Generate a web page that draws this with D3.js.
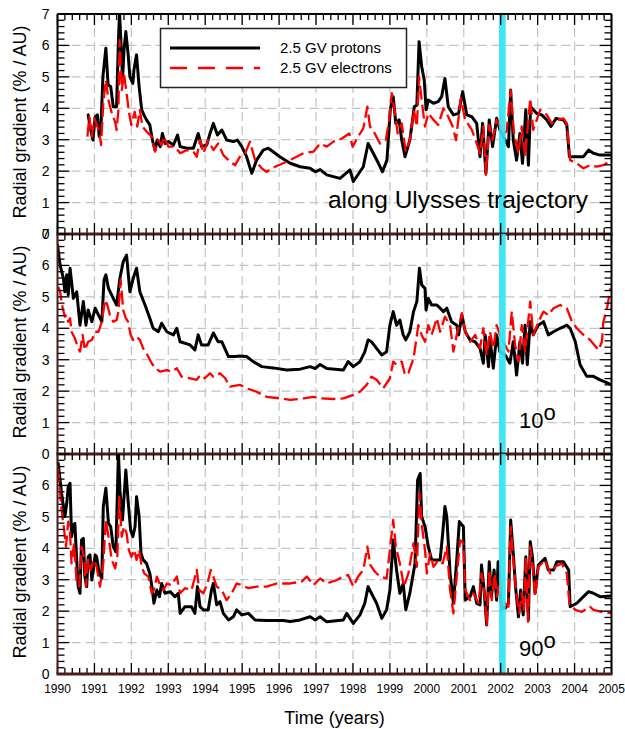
<!DOCTYPE html>
<html>
<head>
<meta charset="utf-8">
<script src="https://cdn.jsdelivr.net/npm/d3@7"></script>
<style>
  html, body { margin: 0; padding: 0; background: #fff; }
  svg { display: block; font-family: "Liberation Sans", Arial, Helvetica, sans-serif; }
</style>
</head>
<body>
<svg id="chart" width="625" height="729"></svg>
<script>
// ---- data -------------------------------------------------------------
const yearTicks = d3.range(1990, 2006);
const valueTicks = [0, 1, 2, 3, 4, 5, 6, 7];
const seriesNames = ["2.5 GV protons", "2.5 GV electrons"];
const panelLabels = ["along Ulysses trajectory", "10", "90"];
const markedInterval = [2001.955, 2002.135];

// radial gradient along the Ulysses trajectory  [year, %/AU]
const trajProtons = [[1990.83,3.79],[1990.90,3.31],[1990.96,2.99],[1991.02,3.73],[1991.08,3.79],[1991.13,3.10],[1991.18,3.52],[1991.23,5.01],[1991.31,5.91],[1991.37,4.74],[1991.44,4.69],[1991.51,4.05],[1991.60,4.05],[1991.65,6.17],[1991.68,7.05],[1991.74,5.54],[1991.76,4.90],[1991.80,5.85],[1991.85,6.44],[1991.91,5.75],[1991.96,5.01],[1992.04,4.79],[1992.07,5.22],[1992.14,5.70],[1992.21,4.69],[1992.28,3.95],[1992.34,3.79],[1992.41,3.63],[1992.50,3.47],[1992.57,2.99],[1992.64,2.67],[1992.70,2.99],[1992.78,2.78],[1992.84,3.20],[1992.91,2.88],[1993.00,2.94],[1993.14,2.83],[1993.25,3.15],[1993.32,2.78],[1993.50,2.73],[1993.68,2.73],[1993.81,3.20],[1993.90,2.78],[1994.04,2.83],[1994.13,3.20],[1994.22,3.52],[1994.33,3.15],[1994.45,3.31],[1994.58,2.99],[1994.76,2.94],[1994.87,2.99],[1994.99,2.78],[1995.12,2.46],[1995.26,1.93],[1995.39,2.35],[1995.57,2.67],[1995.71,2.73],[1996.02,2.46],[1996.30,2.25],[1996.57,2.14],[1996.84,2.09],[1996.98,1.98],[1997.11,2.05],[1997.29,1.88],[1997.65,1.77],[1997.92,2.04],[1998.01,1.67],[1998.28,2.14],[1998.41,2.88],[1998.55,2.57],[1998.69,2.25],[1998.80,1.98],[1998.92,2.35],[1999.01,3.95],[1999.09,4.37],[1999.16,3.52],[1999.25,3.63],[1999.32,2.99],[1999.41,2.46],[1999.54,2.99],[1999.66,4.05],[1999.73,4.10],[1999.79,6.12],[1999.86,5.33],[1999.93,4.90],[1999.98,3.95],[2000.04,4.26],[2000.18,4.16],[2000.31,4.21],[2000.40,4.37],[2000.49,4.95],[2000.58,4.05],[2000.72,3.79],[2000.86,3.84],[2000.97,4.53],[2001.08,3.79],[2001.22,3.73],[2001.35,3.52],[2001.44,2.46],[2001.51,3.52],[2001.60,1.93],[2001.69,3.63],[2001.78,2.78],[2001.89,3.68],[2001.98,3.31],[2002.12,2.99],[2002.21,2.78],[2002.27,4.58],[2002.34,2.99],[2002.43,2.35],[2002.52,3.20],[2002.59,2.25],[2002.68,3.95],[2002.75,2.19],[2002.81,4.05],[2002.97,3.84],[2003.11,3.79],[2003.25,3.63],[2003.36,3.42],[2003.50,3.68],[2003.70,3.63],[2003.79,3.47],[2003.86,2.46],[2004.06,2.46],[2004.24,2.46],[2004.38,2.67],[2004.51,2.57],[2004.69,2.51],[2005.00,2.51]];
const trajElectrons = [[1990.81,3.10],[1990.86,3.73],[1990.93,3.10],[1991.00,3.68],[1991.08,3.42],[1991.13,3.26],[1991.18,2.83],[1991.24,4.16],[1991.31,4.90],[1991.38,4.26],[1991.47,3.84],[1991.56,3.57],[1991.60,3.31],[1991.65,3.95],[1991.68,6.17],[1991.74,4.58],[1991.80,5.11],[1991.87,4.48],[1991.94,3.84],[1992.00,3.47],[1992.09,3.89],[1992.16,3.42],[1992.23,3.95],[1992.30,3.42],[1992.41,3.26],[1992.55,3.10],[1992.64,2.62],[1992.73,2.99],[1992.82,2.83],[1992.88,3.10],[1993.00,2.78],[1993.18,2.78],[1993.32,2.57],[1993.50,2.67],[1993.68,2.62],[1993.77,2.46],[1993.86,2.99],[1993.95,2.57],[1994.08,2.99],[1994.22,2.67],[1994.35,2.88],[1994.49,2.51],[1994.67,2.30],[1994.81,2.19],[1994.94,2.46],[1995.08,2.57],[1995.21,2.94],[1995.35,2.35],[1995.53,2.09],[1995.66,1.98],[1995.89,2.14],[1996.11,2.25],[1996.39,2.41],[1996.66,2.57],[1996.93,2.62],[1997.11,2.88],[1997.29,2.78],[1997.47,2.94],[1997.70,3.04],[1997.90,3.20],[1997.99,2.78],[1998.14,3.10],[1998.28,3.36],[1998.39,4.05],[1998.46,3.42],[1998.59,3.20],[1998.73,2.88],[1998.89,2.99],[1998.98,3.63],[1999.05,4.48],[1999.14,3.84],[1999.21,3.20],[1999.32,3.52],[1999.43,2.62],[1999.54,2.99],[1999.65,3.95],[1999.73,3.42],[1999.79,5.01],[1999.86,4.26],[1999.95,3.42],[2000.04,3.84],[2000.18,3.63],[2000.31,3.47],[2000.45,4.00],[2000.58,3.73],[2000.70,3.42],[2000.79,2.99],[2000.92,4.32],[2001.04,3.63],[2001.22,3.31],[2001.35,2.88],[2001.44,2.57],[2001.53,3.42],[2001.60,1.88],[2001.69,3.47],[2001.78,2.99],[2001.89,3.63],[2001.98,3.42],[2002.07,3.20],[2002.16,3.26],[2002.27,4.58],[2002.36,3.20],[2002.48,2.57],[2002.57,3.42],[2002.66,2.46],[2002.80,4.32],[2002.88,3.31],[2003.07,3.95],[2003.25,3.79],[2003.38,3.52],[2003.52,3.63],[2003.70,3.68],[2003.79,3.52],[2003.88,2.35],[2004.06,2.25],[2004.24,2.09],[2004.42,2.19],[2004.60,2.14],[2004.78,2.19],[2005.00,2.35]];

// radial gradient at 10 degrees latitude
const lat10Protons = [[1990.00,6.65],[1990.07,6.01],[1990.16,5.59],[1990.20,5.16],[1990.25,5.70],[1990.29,5.06],[1990.34,5.91],[1990.43,4.95],[1990.52,5.16],[1990.61,4.10],[1990.70,4.85],[1990.77,4.10],[1990.83,4.58],[1990.93,4.21],[1991.02,4.64],[1991.11,4.42],[1991.20,4.21],[1991.26,5.54],[1991.31,5.70],[1991.38,5.27],[1991.51,4.95],[1991.60,4.74],[1991.69,5.59],[1991.78,6.12],[1991.87,6.33],[1991.96,5.16],[1992.05,5.59],[1992.14,5.91],[1992.23,5.16],[1992.37,4.74],[1992.50,4.32],[1992.59,4.00],[1992.73,3.89],[1992.82,4.16],[1992.96,3.89],[1993.14,3.79],[1993.23,4.00],[1993.32,3.57],[1993.59,3.47],[1993.72,3.31],[1993.81,3.79],[1993.90,3.47],[1994.08,3.47],[1994.22,3.85],[1994.35,3.57],[1994.45,3.57],[1994.63,3.10],[1994.81,3.10],[1994.94,3.12],[1995.12,3.10],[1995.30,2.94],[1995.53,2.78],[1995.84,2.74],[1996.20,2.67],[1996.57,2.70],[1996.84,2.78],[1996.98,2.72],[1997.11,2.85],[1997.29,2.72],[1997.74,2.67],[1997.87,2.94],[1998.01,2.78],[1998.19,2.94],[1998.32,3.25],[1998.41,3.63],[1998.50,3.57],[1998.64,3.36],[1998.78,3.15],[1998.91,3.25],[1999.00,4.10],[1999.09,4.53],[1999.18,4.10],[1999.27,4.26],[1999.36,3.79],[1999.43,3.63],[1999.54,3.89],[1999.64,4.53],[1999.73,4.85],[1999.80,5.91],[1999.86,5.38],[1999.95,5.27],[1999.98,4.58],[2000.04,4.95],[2000.13,4.74],[2000.27,4.74],[2000.36,4.64],[2000.45,4.53],[2000.54,4.64],[2000.67,4.21],[2000.81,4.10],[2000.86,3.79],[2000.95,4.42],[2001.04,3.89],[2001.17,3.63],[2001.31,3.57],[2001.44,3.36],[2001.53,2.89],[2001.58,3.79],[2001.67,2.78],[2001.71,3.68],[2001.80,2.73],[2001.89,3.79],[2001.98,3.25],[2002.12,3.15],[2002.25,2.89],[2002.34,3.57],[2002.43,2.51],[2002.52,3.57],[2002.59,2.89],[2002.66,4.10],[2002.72,2.84],[2002.80,4.21],[2002.88,3.79],[2003.02,4.10],[2003.16,4.21],[2003.29,3.79],[2003.43,3.89],[2003.61,4.00],[2003.79,4.10],[2003.88,4.00],[2004.02,3.57],[2004.15,2.84],[2004.33,2.47],[2004.51,2.47],[2004.69,2.36],[2004.88,2.26],[2005.00,2.20]];
const lat10Electrons = [[1990.02,5.32],[1990.07,5.17],[1990.14,4.64],[1990.20,4.37],[1990.25,4.42],[1990.29,4.21],[1990.34,4.32],[1990.38,3.89],[1990.47,3.68],[1990.56,3.36],[1990.61,3.26],[1990.68,3.79],[1990.74,3.31],[1990.83,3.57],[1990.93,3.63],[1991.02,3.89],[1991.11,3.89],[1991.20,4.21],[1991.29,4.90],[1991.35,4.74],[1991.42,4.42],[1991.51,4.21],[1991.60,4.26],[1991.65,4.53],[1991.71,5.54],[1991.78,4.58],[1991.85,4.32],[1991.91,4.21],[1991.98,3.79],[1992.05,3.63],[1992.14,3.73],[1992.23,3.63],[1992.32,3.36],[1992.41,3.20],[1992.55,2.89],[1992.64,2.73],[1992.78,2.62],[1992.96,2.67],[1993.09,2.62],[1993.23,2.73],[1993.36,2.46],[1993.59,2.41],[1993.77,2.36],[1993.86,2.51],[1993.99,2.41],[1994.13,2.57],[1994.22,2.46],[1994.40,2.57],[1994.54,2.41],[1994.67,2.14],[1994.94,2.20],[1995.12,2.09],[1995.39,1.98],[1995.66,1.82],[1996.02,1.77],[1996.30,1.72],[1996.66,1.77],[1996.93,1.82],[1997.11,1.77],[1997.47,1.75],[1997.74,1.77],[1998.01,1.88],[1998.19,1.98],[1998.37,2.20],[1998.50,2.46],[1998.64,2.36],[1998.82,2.09],[1999.00,2.41],[1999.09,2.94],[1999.18,2.84],[1999.32,2.94],[1999.41,2.51],[1999.50,2.57],[1999.64,3.04],[1999.77,4.10],[1999.86,3.79],[1999.95,3.57],[2000.04,4.10],[2000.13,3.79],[2000.27,4.32],[2000.36,3.89],[2000.49,4.37],[2000.63,4.10],[2000.72,3.26],[2000.81,3.79],[2000.95,4.48],[2001.04,3.89],[2001.17,3.57],[2001.31,3.79],[2001.44,3.36],[2001.53,4.00],[2001.62,3.15],[2001.71,3.89],[2001.80,3.36],[2001.89,4.10],[2001.98,3.79],[2002.07,3.57],[2002.21,3.26],[2002.30,4.53],[2002.39,3.47],[2002.48,2.94],[2002.57,4.10],[2002.66,3.26],[2002.80,4.85],[2002.88,3.79],[2003.02,4.21],[2003.16,4.53],[2003.29,4.42],[2003.43,4.64],[2003.61,4.74],[2003.79,4.64],[2003.93,4.21],[2004.06,4.00],[2004.24,3.79],[2004.42,3.63],[2004.65,3.31],[2004.74,3.57],[2004.78,4.21],[2004.88,4.64],[2004.97,5.27]];

// radial gradient at 90 degrees latitude
const lat90Protons = [[1990.02,6.70],[1990.07,6.17],[1990.11,5.75],[1990.16,5.33],[1990.20,5.01],[1990.25,5.43],[1990.29,5.96],[1990.34,6.07],[1990.38,4.37],[1990.43,4.74],[1990.47,4.79],[1990.52,3.63],[1990.56,2.78],[1990.61,2.57],[1990.65,4.26],[1990.70,4.32],[1990.74,3.10],[1990.79,2.78],[1990.83,3.73],[1990.88,3.79],[1990.93,2.99],[1990.97,3.31],[1991.02,3.79],[1991.06,3.73],[1991.13,3.20],[1991.20,3.04],[1991.24,5.33],[1991.31,5.91],[1991.38,4.79],[1991.44,4.69],[1991.51,4.05],[1991.58,3.89],[1991.65,7.05],[1991.69,5.85],[1991.76,4.90],[1991.85,6.49],[1991.91,5.54],[1991.98,4.58],[1992.04,4.37],[1992.10,4.69],[1992.14,5.64],[1992.21,5.01],[1992.26,3.84],[1992.32,3.63],[1992.41,3.52],[1992.50,3.20],[1992.57,2.67],[1992.61,2.25],[1992.69,2.67],[1992.76,2.46],[1992.82,2.88],[1992.91,2.57],[1993.05,2.62],[1993.18,2.46],[1993.27,2.57],[1993.32,1.93],[1993.45,2.14],[1993.63,2.14],[1993.72,1.93],[1993.79,2.78],[1993.86,2.14],[1993.95,2.04],[1994.08,2.04],[1994.17,2.67],[1994.22,2.88],[1994.31,2.20],[1994.40,2.30],[1994.49,1.93],[1994.63,1.72],[1994.76,1.82],[1994.85,2.04],[1994.99,1.88],[1995.17,1.93],[1995.35,1.72],[1995.66,1.70],[1996.11,1.70],[1996.30,1.67],[1996.57,1.72],[1996.84,1.82],[1996.98,1.72],[1997.11,1.82],[1997.29,1.66],[1997.74,1.72],[1997.83,1.93],[1998.01,1.61],[1998.19,1.88],[1998.32,2.25],[1998.41,2.78],[1998.50,2.57],[1998.64,2.25],[1998.78,1.77],[1998.91,2.04],[1999.00,2.67],[1999.09,4.26],[1999.18,3.31],[1999.27,2.57],[1999.36,2.88],[1999.43,2.04],[1999.54,2.57],[1999.68,3.52],[1999.75,6.17],[1999.82,6.38],[1999.86,5.01],[1999.95,4.69],[2000.04,4.05],[2000.13,3.63],[2000.22,3.63],[2000.36,3.63],[2000.43,4.48],[2000.49,5.33],[2000.54,5.01],[2000.63,3.20],[2000.72,2.25],[2000.81,3.63],[2000.88,4.85],[2000.99,4.69],[2001.04,2.35],[2001.17,2.46],[2001.26,2.78],[2001.35,2.25],[2001.44,2.20],[2001.48,3.47],[2001.55,2.67],[2001.62,1.56],[2001.69,3.57],[2001.75,2.46],[2001.82,3.31],[2001.89,2.35],[2001.93,3.57],[2002.02,2.14],[2002.12,2.09],[2002.21,2.25],[2002.27,4.90],[2002.34,3.84],[2002.41,2.67],[2002.48,1.82],[2002.54,2.67],[2002.61,1.88],[2002.68,3.73],[2002.75,1.72],[2002.80,4.21],[2002.86,3.73],[2002.93,2.57],[2003.02,3.47],[2003.20,3.68],[2003.29,3.31],[2003.43,3.31],[2003.52,3.57],[2003.70,3.57],[2003.84,3.31],[2003.88,2.14],[2004.06,2.25],[2004.24,2.46],[2004.38,2.62],[2004.51,2.57],[2004.69,2.46],[2005.00,2.48]];
const lat90Electrons = [[1990.02,6.54],[1990.07,5.75],[1990.11,5.22],[1990.18,4.58],[1990.23,4.05],[1990.29,4.85],[1990.34,4.48],[1990.38,3.52],[1990.45,4.16],[1990.52,2.88],[1990.59,2.78],[1990.65,4.05],[1990.72,3.73],[1990.77,2.78],[1990.83,3.63],[1990.90,3.31],[1990.97,3.63],[1991.06,3.41],[1991.15,2.78],[1991.24,3.52],[1991.31,4.90],[1991.38,4.37],[1991.47,3.63],[1991.56,3.36],[1991.62,3.73],[1991.67,5.64],[1991.74,4.37],[1991.80,4.69],[1991.87,4.48],[1991.93,3.95],[1992.00,3.73],[1992.08,3.95],[1992.14,3.63],[1992.21,3.95],[1992.28,3.41],[1992.35,3.20],[1992.46,3.10],[1992.55,2.57],[1992.61,2.67],[1992.69,3.10],[1992.76,2.88],[1992.87,2.67],[1992.96,2.88],[1993.09,2.83],[1993.23,3.10],[1993.32,2.57],[1993.45,2.73],[1993.63,2.67],[1993.77,3.31],[1993.84,2.67],[1993.95,2.57],[1994.06,2.88],[1994.15,3.31],[1994.22,3.10],[1994.31,2.78],[1994.45,2.67],[1994.58,2.35],[1994.72,2.57],[1994.85,2.88],[1994.99,2.83],[1995.17,2.73],[1995.39,2.78],[1995.66,2.78],[1995.93,2.88],[1996.30,2.88],[1996.61,2.94],[1996.75,3.10],[1996.93,2.83],[1997.11,3.04],[1997.29,2.88],[1997.56,2.99],[1997.74,3.10],[1997.87,3.15],[1998.01,2.78],[1998.14,3.10],[1998.28,3.31],[1998.39,4.05],[1998.47,3.47],[1998.59,3.26],[1998.73,3.10],[1998.91,3.04],[1999.00,3.95],[1999.09,4.90],[1999.16,4.05],[1999.27,3.52],[1999.38,2.78],[1999.50,3.20],[1999.64,4.16],[1999.73,3.41],[1999.80,5.75],[1999.86,4.79],[1999.95,3.95],[2000.00,3.20],[2000.09,3.84],[2000.18,3.41],[2000.31,3.63],[2000.43,3.52],[2000.54,4.05],[2000.63,2.67],[2000.72,1.93],[2000.81,3.10],[2000.90,4.26],[2000.99,4.16],[2001.04,2.67],[2001.17,2.35],[2001.26,2.57],[2001.40,2.25],[2001.48,3.20],[2001.57,2.46],[2001.62,1.56],[2001.69,3.31],[2001.76,2.35],[2001.84,3.20],[2001.90,2.46],[2001.98,2.99],[2002.02,2.04],[2002.12,2.25],[2002.21,2.14],[2002.27,4.69],[2002.36,3.41],[2002.43,2.46],[2002.50,1.93],[2002.57,2.57],[2002.63,2.04],[2002.68,3.73],[2002.74,1.66],[2002.80,4.05],[2002.87,3.41],[2002.93,2.46],[2003.02,3.41],[2003.20,3.63],[2003.34,3.20],[2003.47,3.41],[2003.65,3.52],[2003.79,3.20],[2003.86,2.25],[2004.02,2.04],[2004.20,1.98],[2004.42,2.14],[2004.51,2.04],[2004.74,1.98],[2005.00,1.93]];

const panelSeries = [
  [trajProtons, trajElectrons],
  [lat10Protons, lat10Electrons],
  [lat90Protons, lat90Electrons]
];

// ---- layout -----------------------------------------------------------
const svg = d3.select("#chart");
const left = 57.5, right = 611.5;
const panelTop = [14, 234, 454];
const panelH = 220;
const axisDark = "#4a1c1c";
const gridColor = "#c4c4c4";
const cyan = "#2fe4f2";

const x = d3.scaleLinear().domain([1990, 2005]).range([left, right]);
const minorYears = d3.range(1990, 2005.001, 0.2);
const minorValues = d3.range(0, 7.001, 0.2);

const defs = svg.append("defs");

panelSeries.forEach((series, i) => {
  const top = panelTop[i];
  const y = d3.scaleLinear().domain([0, 7]).range([top + panelH, top]);
  const g = svg.append("g").attr("class", "panel");

  defs.append("clipPath").attr("id", "clip" + i)
    .append("rect").attr("x", left).attr("y", top).attr("width", right - left).attr("height", panelH);

  // dashed grid
  g.append("g").selectAll("line.vg").data(yearTicks.slice(1, -1)).join("line")
    .attr("x1", d => x(d)).attr("x2", d => x(d))
    .attr("y1", top).attr("y2", top + panelH)
    .attr("stroke", gridColor).attr("stroke-width", 1.2).attr("stroke-dasharray", "9,5");
  g.append("g").selectAll("line.hg").data(valueTicks.slice(1, -1)).join("line")
    .attr("x1", left).attr("x2", right)
    .attr("y1", d => y(d)).attr("y2", d => y(d))
    .attr("stroke", gridColor).attr("stroke-width", 1.2).attr("stroke-dasharray", "9,5");

  // data curves
  const line = d3.line().x(d => x(d[0])).y(d => y(d[1])).curve(d3.curveLinear);
  const cg = g.append("g").attr("clip-path", `url(#clip${i})`);
  cg.append("path").datum(series[0]).attr("d", line)
    .attr("fill", "none").attr("stroke", "#000").attr("stroke-width", 3)
    .attr("stroke-linejoin", "round").attr("stroke-linecap", "round");
  cg.append("path").datum(series[1]).attr("d", line)
    .attr("fill", "none").attr("stroke", "#f00").attr("stroke-width", 2.3)
    .attr("stroke-dasharray", "14,5").attr("stroke-linejoin", "round");

  // highlighted interval
  g.append("rect")
    .attr("x", x(markedInterval[0])).attr("width", x(markedInterval[1]) - x(markedInterval[0]))
    .attr("y", top).attr("height", panelH)
    .attr("fill", cyan).attr("opacity", 0.92);

  // inward ticks on all four sides
  const tg = g.append("g").attr("stroke", "#000").attr("stroke-width", 1.3);
  minorYears.forEach(v => {
    const major = Math.abs(v - Math.round(v)) < 1e-6;
    const len = major ? 11 : 6;
    tg.append("line").attr("x1", x(v)).attr("x2", x(v)).attr("y1", top).attr("y2", top + len);
    tg.append("line").attr("x1", x(v)).attr("x2", x(v)).attr("y1", top + panelH).attr("y2", top + panelH - len);
  });
  minorValues.forEach(v => {
    const major = Math.abs(v - Math.round(v)) < 1e-6;
    const len = major ? 12 : 7;
    tg.append("line").attr("x1", left).attr("x2", left + len).attr("y1", y(v)).attr("y2", y(v));
    tg.append("line").attr("x1", right).attr("x2", right - len).attr("y1", y(v)).attr("y2", y(v));
  });

  // frame
  g.append("line").attr("x1", right).attr("x2", right).attr("y1", top).attr("y2", top + panelH)
    .attr("stroke", "#000").attr("stroke-width", 2);
  g.append("line").attr("x1", left).attr("x2", left).attr("y1", top).attr("y2", top + panelH)
    .attr("stroke", i === 0 ? "#000" : axisDark).attr("stroke-width", 2);
  if (i === 0) {
    g.append("line").attr("x1", left).attr("x2", right).attr("y1", top).attr("y2", top)
      .attr("stroke", "#000").attr("stroke-width", 2);
  }
  g.append("line").attr("x1", left - 1).attr("x2", right + 1)
    .attr("y1", top + panelH).attr("y2", top + panelH)
    .attr("stroke", axisDark).attr("stroke-width", 3);

  // y tick labels
  const labelVals = i === 2 ? valueTicks.slice(0, -1) : valueTicks;
  g.append("g").selectAll("text").data(labelVals).join("text")
    .attr("x", left - 8).attr("y", d => y(d)).attr("dy", "0.36em")
    .attr("text-anchor", "end").attr("font-size", 14).attr("fill", "#000")
    .text(d => d);

  // y axis title
  g.append("text")
    .attr("transform", `translate(26,${top + panelH / 2 - 2}) rotate(-90)`)
    .attr("text-anchor", "middle").attr("font-size", 18).attr("fill", "#000")
    .text("Radial gradient (% / AU)");
});

// panel annotations
svg.append("text").attr("x", 588).attr("y", 208).attr("text-anchor", "end")
  .attr("font-size", 24.5).attr("fill", "#000").text(panelLabels[0]);
[[1, 428], [2, 656]].forEach(([i, yy]) => {
  const t = svg.append("text").attr("x", 519).attr("y", yy).attr("font-size", 22).attr("fill", "#000");
  t.append("tspan").text(panelLabels[i]);
  t.append("tspan").attr("dy", -8).text("o");
});

// x tick labels and title
svg.append("g").selectAll("text").data(yearTicks).join("text")
  .attr("x", d => x(d)).attr("y", 693)
  .attr("text-anchor", "middle").attr("font-size", 12).attr("fill", "#000")
  .text(d => d);
svg.append("text").attr("x", x(1997.5)).attr("y", 724)
  .attr("text-anchor", "middle").attr("font-size", 18).attr("fill", "#000")
  .text("Time (years)");

// legend
const lg = svg.append("g");
lg.append("rect").attr("x", 160.5).attr("y", 28.5).attr("width", 246).attr("height", 59)
  .attr("fill", "#fff").attr("stroke", "#222").attr("stroke-width", 1.5);
lg.append("line").attr("x1", 170).attr("x2", 260).attr("y1", 48).attr("y2", 48)
  .attr("stroke", "#000").attr("stroke-width", 3);
lg.append("line").attr("x1", 170).attr("x2", 260).attr("y1", 68).attr("y2", 68)
  .attr("stroke", "#f00").attr("stroke-width", 2.3).attr("stroke-dasharray", "17,11");
lg.selectAll("text").data(seriesNames).join("text")
  .attr("x", 280).attr("y", (d, k) => 48 + k * 20).attr("dy", "0.35em")
  .attr("font-size", 15).attr("fill", "#000").text(d => d);
</script>
</body>
</html>
